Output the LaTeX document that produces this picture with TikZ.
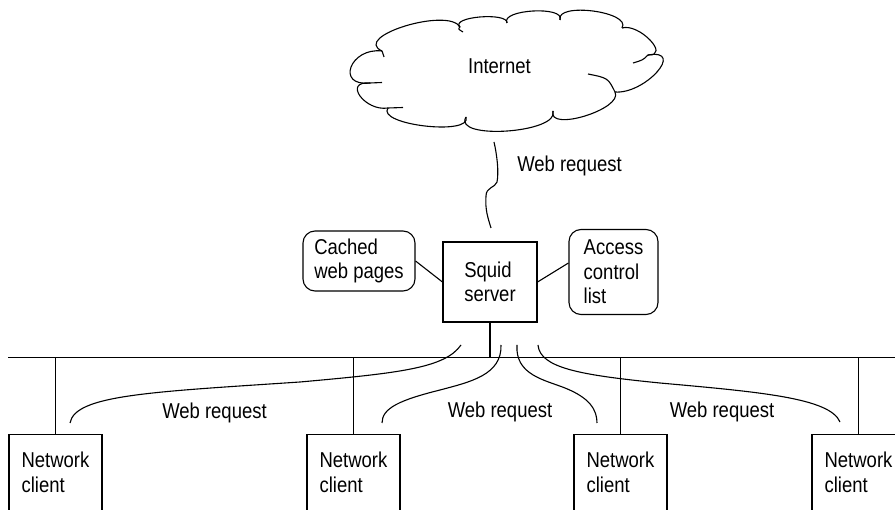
\documentclass[tikz,border=0pt]{standalone}
\usepackage{fontspec}
\setmainfont{Liberation Sans}[FakeStretch=0.86]
\usetikzlibrary{calc}
\begin{document}
\begin{tikzpicture}[x=1pt,y=-1pt,line width=1.1pt,
  every node/.style={font=\fontsize{21.5}{24.5}\selectfont,inner sep=0pt},
  box/.style={draw,rectangle,align=left},
  rbox/.style={box,rounded corners=12pt},
  lbl/.style={anchor=base}]
\useasboundingbox (0,0) rectangle (895,510);
\clip (0,0) rectangle (895,510);
% cloud
\coordinate (J11) at (382,51);
\coordinate (J1) at (370,83);
\coordinate (J2) at (388,108);
\coordinate (J3) at (466,117);
\coordinate (J4) at (553,111);
\coordinate (J5) at (615,92);
\coordinate (J6) at (648,55);
\coordinate (J7) at (622,28);
\coordinate (J8) at (560,20);
\coordinate (J9) at (507,23);
\coordinate (J10) at (460,27);
\draw (J11) .. controls (350.1,47.2) and (335.3,86.8) .. (J1);
\draw (J1) .. controls (342.5,80.7) and (364.9,111.7) .. (J2);
\draw (J2) .. controls (375.9,124.9) and (472.7,136.1) .. (J3);
\draw (J3) .. controls (452.3,140.4) and (560.1,133) .. (J4);
\draw (J4) .. controls (546.9,132.6) and (623.7,109) .. (J5);
\draw (J5) .. controls (645,94.4) and (686,48.6) .. (J6);
\draw (J6) .. controls (671.1,56.2) and (638.9,22.8) .. (J7);
\draw (J7) .. controls (632.1,11.7) and (555.3,1.7) .. (J8);
\draw (J8) .. controls (565.7,5.6) and (499.9,9.4) .. (J9);
\draw (J9) .. controls (507.9,11.8) and (449.7,16.8) .. (J10);
\draw (J10) .. controls (448.1,6.8) and (351.3,36.6) .. (J11);
% cloud tails
\draw (J11) .. controls (383,54) .. (384,57);
\draw (J1) .. controls (376,82.3) .. (382,82.5);
\draw (J2) .. controls (396,107) .. (403,107.5);
\draw (J10) .. controls (458,29) .. (463,32);
\draw (J6) .. controls (643,60) .. (633,63);
\draw (J5) .. controls (608,78) .. (588,74);
\node[lbl] (inet) at (499.5,74) {Internet};
% server and stores
\node[box,minimum width=94,minimum height=80] (squid) at (490,282) {Squid\\server};
\node[rbox,minimum width=112,minimum height=60] (cached) at (359,261) {Cached\\web pages};
\node[rbox,minimum width=89,minimum height=85] (acl) at (613.5,272) {Access\\control\\list};
\draw (cached.east) -- (squid.west);
\draw (squid.east) -- ($(acl.west)+(0,-9)$);
% web request from internet
\coordinate (w0) at (494,142);
\coordinate (w1) at (491,228);
\draw (w0) .. controls (497,155) and (499,172) .. (497,182) .. controls (495,188) and (486,187) .. (486,196) .. controls (485,210) and (488,218) .. (w1);
\node[lbl] (l0) at (569.5,172) {Web request};
% bus
\coordinate (busL) at (8,357.5);
\coordinate (busR) at (900,357.5);
\draw (busL) -- (busR);
\draw (squid.south) -- (squid.south |- busL);
% clients
\node[box,anchor=north,minimum width=93,minimum height=76] (c1) at (55.5,434) {Network\\client};
\node[box,anchor=north,minimum width=93,minimum height=76] (c2) at (353.5,434) {Network\\client};
\node[box,anchor=north,minimum width=93,minimum height=76] (c3) at (620.5,434) {Network\\client};
\node[box,anchor=north,minimum width=93,minimum height=76] (c4) at (858.5,434) {Network\\client};
\foreach \c in {c1,c2,c3,c4} \draw (\c.north) -- (\c.north |- busL);
% web request curves
\coordinate (r1a) at (461,345); \coordinate (r1b) at (70,423);
\coordinate (r2a) at (501,345); \coordinate (r2b) at (382,423);
\coordinate (r3a) at (517,345); \coordinate (r3b) at (597,423);
\coordinate (r4a) at (538,345); \coordinate (r4b) at (840,422);
\draw (r1a) .. controls (445,368) and (400,373) .. (300,382) .. controls (150,392) and (75,395) .. (r1b);
\draw (r2a) .. controls (502,375) and (470,382) .. (440,390) .. controls (400,400) and (382,408) .. (r2b);
\draw (r3a) .. controls (515,375) and (545,380) .. (565,388) .. controls (590,398) and (597,410) .. (r3b);
\draw (r4a) .. controls (540,368) and (580,375) .. (660,383) .. controls (760,392) and (830,398) .. (r4b);
\node[lbl] (l1) at (214.5,419) {Web request};
\node[lbl] (l2) at (500,418) {Web request};
\node[lbl] (l3) at (722,418) {Web request};
\end{tikzpicture}
\end{document}
